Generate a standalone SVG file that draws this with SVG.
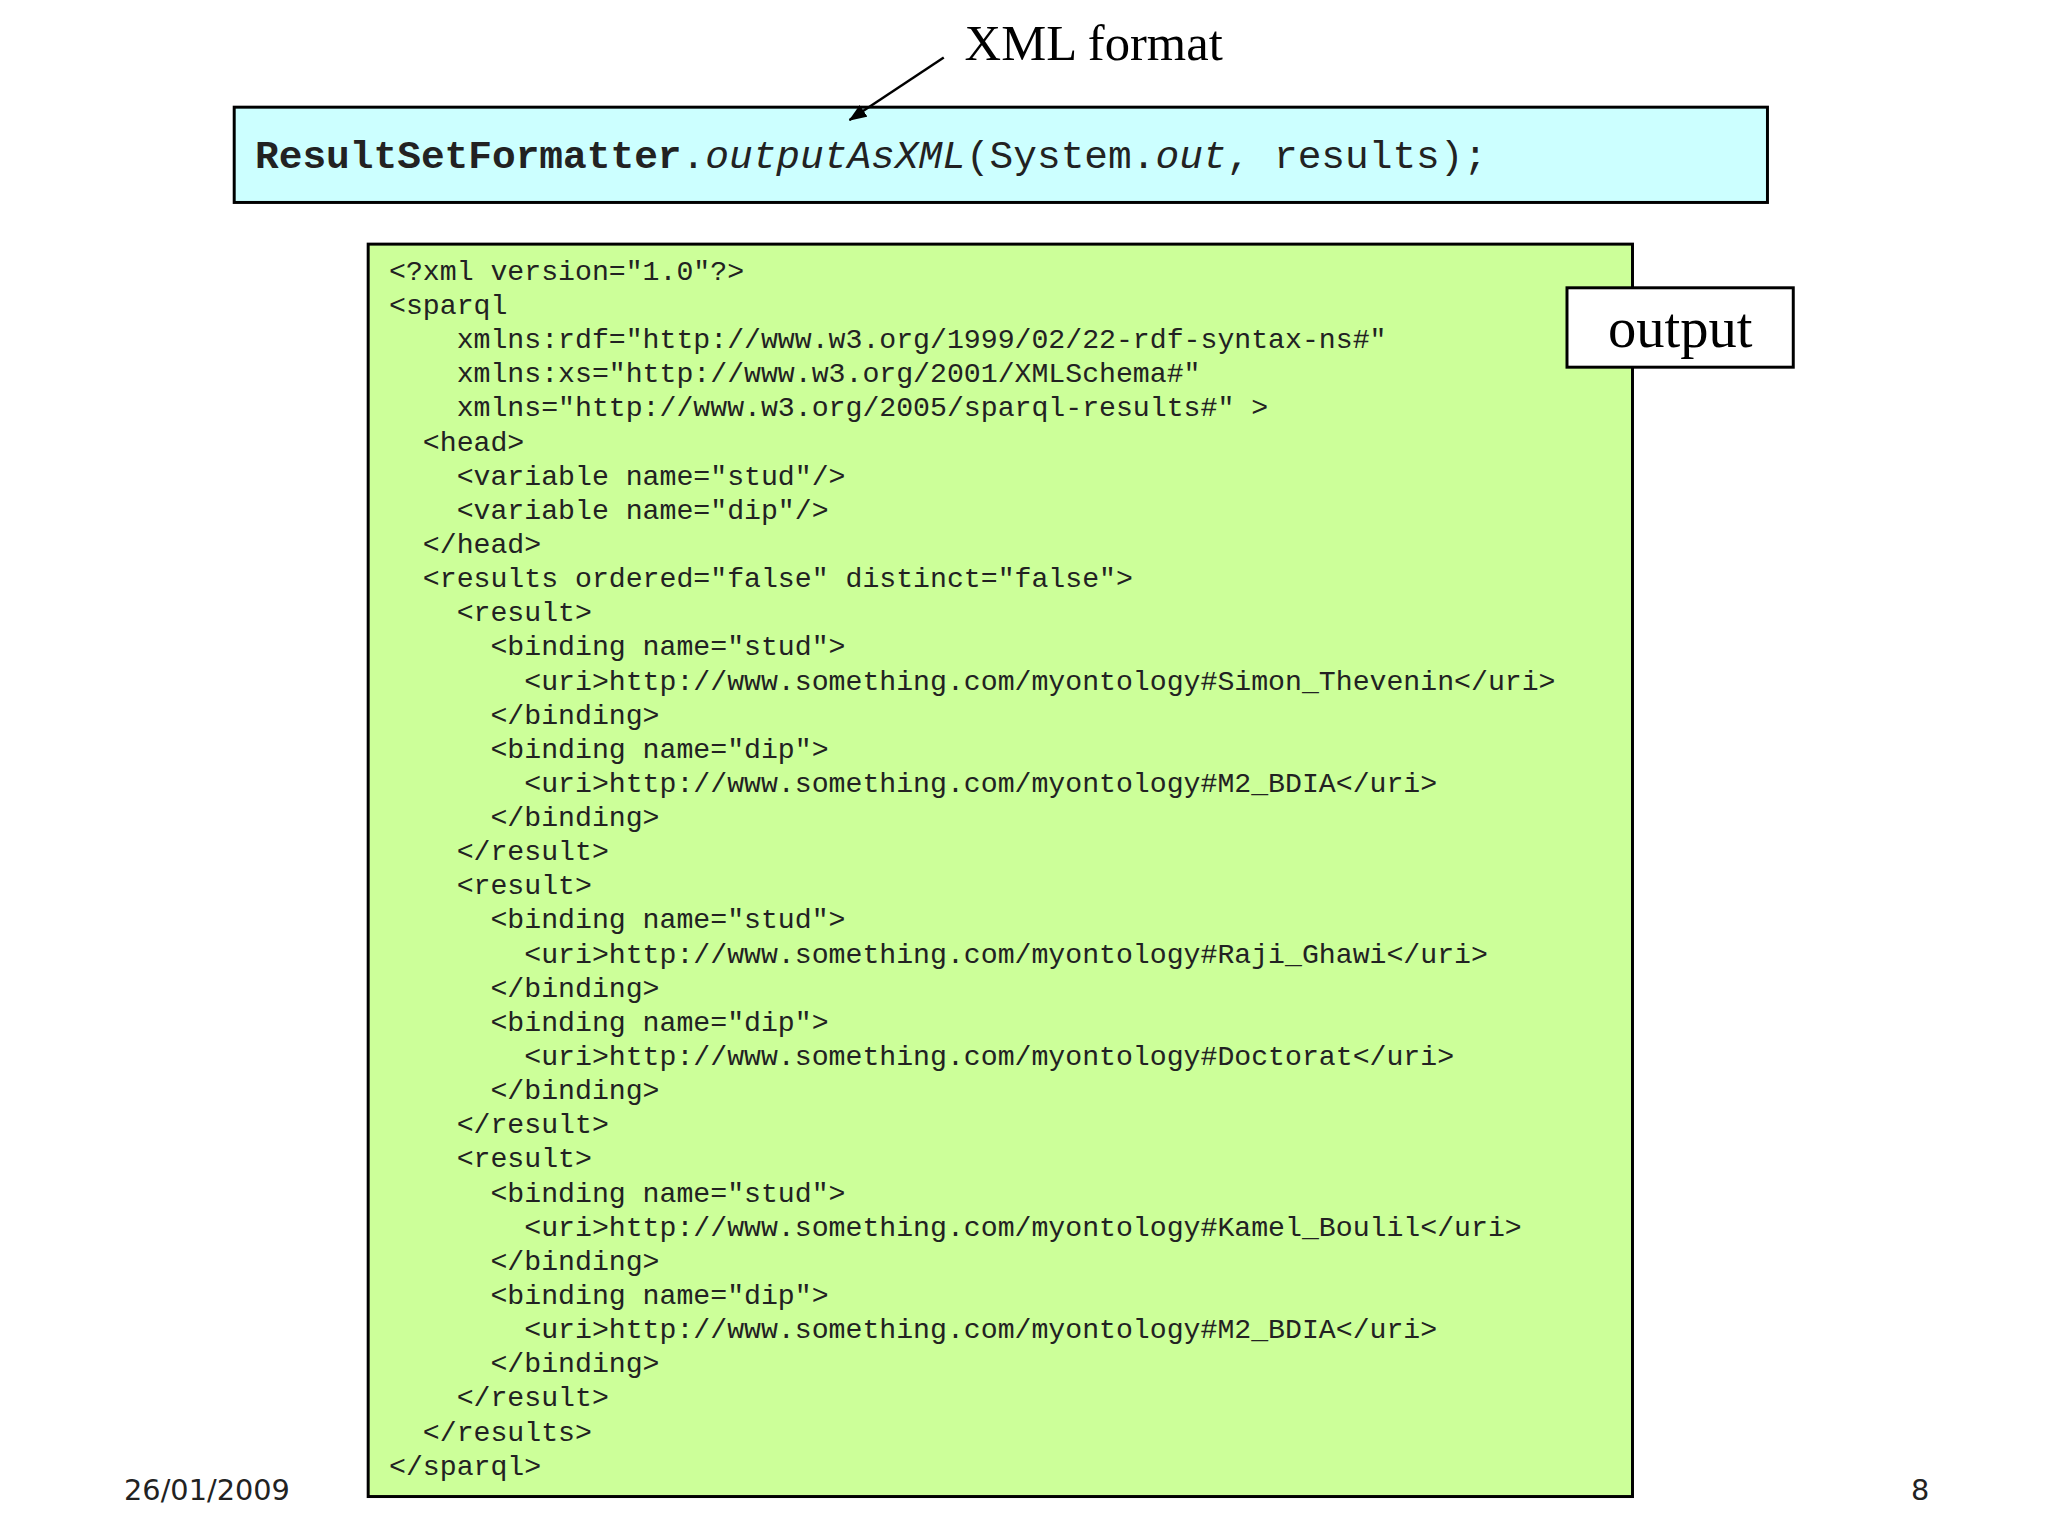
<svg xmlns="http://www.w3.org/2000/svg" width="2048" height="1536" viewBox="0 0 2048 1536">
<style>
.box{stroke:#000;stroke-width:3}
.code{font-family:"Liberation Mono",monospace;font-size:28.4px;fill:#222;white-space:pre}
.times{font-family:"Liberation Serif",serif;fill:#000}
</style>
<defs><marker id="ah" markerWidth="18" markerHeight="14" refX="17" refY="7" orient="auto" markerUnits="userSpaceOnUse" viewBox="0 0 18 14"><path d="M0,0L18,7L0,14z" fill="#000"/></marker></defs>
<rect width="2048" height="1536" fill="#fff"/>
<g transform="scale(0.9924)">
<g id="call">
<rect class="box" x="236" y="108" width="1545" height="96" fill="#CCFFFF"/>
<text x="257" y="169" style="font-family:'Liberation Mono',monospace;font-size:39.8px;fill:#222;white-space:pre"><tspan font-weight="bold">ResultSetFormatter</tspan>.<tspan font-style="italic">outputAsXML</tspan>(System.<tspan font-style="italic">out</tspan>, results);</text>
</g>
<g id="label-xml"><text class="times" x="972" y="60" font-size="51">XML format</text></g>
<g id="connectors"><line x1="951" y1="58" x2="856" y2="121" stroke="#000" stroke-width="2.5" marker-end="url(#ah)"/></g>
<g id="xml-output">
<rect class="box" x="371" y="246" width="1274" height="1262" fill="#CCFF99"/>
<text class="code" xml:space="preserve">
<tspan x="392" y="282">&lt;?xml version="1.0"?&gt;</tspan>
<tspan x="392" y="316.4">&lt;sparql</tspan>
<tspan x="392" y="350.8">    xmlns:rdf="http://www.w3.org/1999/02/22-rdf-syntax-ns#"</tspan>
<tspan x="392" y="385.2">    xmlns:xs="http://www.w3.org/2001/XMLSchema#"</tspan>
<tspan x="392" y="419.6">    xmlns="http://www.w3.org/2005/sparql-results#" &gt;</tspan>
<tspan x="392" y="454">  &lt;head&gt;</tspan>
<tspan x="392" y="488.4">    &lt;variable name="stud"/&gt;</tspan>
<tspan x="392" y="522.8">    &lt;variable name="dip"/&gt;</tspan>
<tspan x="392" y="557.2">  &lt;/head&gt;</tspan>
<tspan x="392" y="591.6">  &lt;results ordered="false" distinct="false"&gt;</tspan>
<tspan x="392" y="626">    &lt;result&gt;</tspan>
<tspan x="392" y="660.4">      &lt;binding name="stud"&gt;</tspan>
<tspan x="392" y="694.8">        &lt;uri&gt;http://www.something.com/myontology#Simon_Thevenin&lt;/uri&gt;</tspan>
<tspan x="392" y="729.2">      &lt;/binding&gt;</tspan>
<tspan x="392" y="763.6">      &lt;binding name="dip"&gt;</tspan>
<tspan x="392" y="798">        &lt;uri&gt;http://www.something.com/myontology#M2_BDIA&lt;/uri&gt;</tspan>
<tspan x="392" y="832.4">      &lt;/binding&gt;</tspan>
<tspan x="392" y="866.8">    &lt;/result&gt;</tspan>
<tspan x="392" y="901.2">    &lt;result&gt;</tspan>
<tspan x="392" y="935.6">      &lt;binding name="stud"&gt;</tspan>
<tspan x="392" y="970">        &lt;uri&gt;http://www.something.com/myontology#Raji_Ghawi&lt;/uri&gt;</tspan>
<tspan x="392" y="1004.4">      &lt;/binding&gt;</tspan>
<tspan x="392" y="1038.8">      &lt;binding name="dip"&gt;</tspan>
<tspan x="392" y="1073.2">        &lt;uri&gt;http://www.something.com/myontology#Doctorat&lt;/uri&gt;</tspan>
<tspan x="392" y="1107.6">      &lt;/binding&gt;</tspan>
<tspan x="392" y="1142">    &lt;/result&gt;</tspan>
<tspan x="392" y="1176.4">    &lt;result&gt;</tspan>
<tspan x="392" y="1210.8">      &lt;binding name="stud"&gt;</tspan>
<tspan x="392" y="1245.2">        &lt;uri&gt;http://www.something.com/myontology#Kamel_Boulil&lt;/uri&gt;</tspan>
<tspan x="392" y="1279.6">      &lt;/binding&gt;</tspan>
<tspan x="392" y="1314">      &lt;binding name="dip"&gt;</tspan>
<tspan x="392" y="1348.4">        &lt;uri&gt;http://www.something.com/myontology#M2_BDIA&lt;/uri&gt;</tspan>
<tspan x="392" y="1382.8">      &lt;/binding&gt;</tspan>
<tspan x="392" y="1417.2">    &lt;/result&gt;</tspan>
<tspan x="392" y="1451.6">  &lt;/results&gt;</tspan>
<tspan x="392" y="1486">&lt;/sparql&gt;</tspan>
</text>
</g>
<g id="output-label">
<rect class="box" x="1579" y="290" width="228" height="80" fill="#fff"/>
<text class="times" x="1693" y="350" font-size="57" text-anchor="middle">output</text>
</g>
<g id="footer" style="font-family:'DejaVu Sans',sans-serif;font-size:29px;fill:#222">
<text x="125" y="1511">26/01/2009</text>
<text x="1944" y="1511" text-anchor="end">8</text>
</g>
</g>
</svg>
